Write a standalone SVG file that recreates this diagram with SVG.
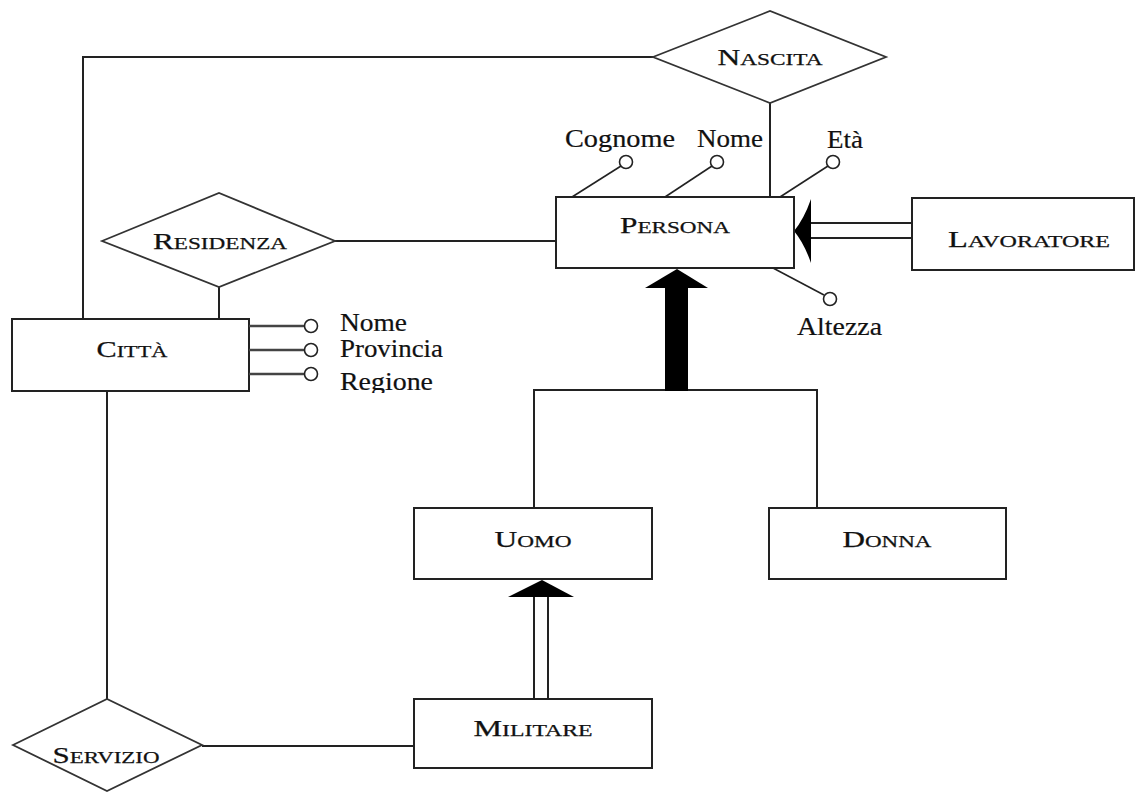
<svg xmlns="http://www.w3.org/2000/svg" width="1137" height="792" viewBox="0 0 1137 792">
<style>
.box{fill:#fff;stroke:#222;stroke-width:2}
.dia{fill:#fff;stroke:#333;stroke-width:1.8}
.ln{fill:none;stroke:#222;stroke-width:2}
.att{fill:#fff;stroke:#222;stroke-width:1.6}
.lbl{font-family:"Liberation Serif","Times New Roman",serif;fill:#111;text-anchor:middle;stroke:#111;stroke-width:0.25}
.big{font-size:23px}
.sm{font-size:17px}
.at{font-family:"Liberation Serif","Times New Roman",serif;fill:#111;font-size:25px;stroke:#111;stroke-width:0.2}
.arr{fill:#000;stroke:none}
</style>
<defs>
<clipPath id="clipReg"><rect x="330" y="360" width="120" height="33"/></clipPath>
</defs>
<g id="connectors">
<polyline class="ln" points="653,57 83,57 83,319"/>
<line class="ln" x1="770" y1="103" x2="770" y2="197"/>
<line class="ln" x1="335" y1="241" x2="556" y2="241"/>
<line class="ln" x1="219" y1="287" x2="219" y2="319"/>
<line class="ln" x1="107" y1="391" x2="107" y2="699"/>
<line class="ln" x1="202" y1="746" x2="414" y2="746"/>
<polyline class="ln" points="534,508 534,390 817,390 817,508"/>
<rect class="arr" x="665" y="286" width="23" height="105"/>
<polygon class="arr" points="677,269 645,288 708,288"/>
<line class="ln" x1="810" y1="223" x2="912" y2="223"/>
<line class="ln" x1="810" y1="238" x2="912" y2="238"/>
<path class="arr" d="M794,231 Q804,219 811,199 L811,263 Q804,243 794,231 Z"/>
<line class="ln" x1="534" y1="597" x2="534" y2="699"/>
<line class="ln" x1="548" y1="597" x2="548" y2="699"/>
<polygon class="arr" points="542,580 508,597 574,597"/>
</g>
<g id="nascita">
<polygon class="dia" points="653,57 770,11 886,57 770,103"/>
<text class="lbl" x="770" y="65" textLength="105" lengthAdjust="spacingAndGlyphs"><tspan class="big">N</tspan><tspan class="sm">ASCITA</tspan></text>
</g>
<g id="residenza">
<polygon class="dia" points="102,241 219,193 335,241 219,287"/>
<text class="lbl" x="220" y="249" textLength="134" lengthAdjust="spacingAndGlyphs"><tspan class="big">R</tspan><tspan class="sm">ESIDENZA</tspan></text>
</g>
<g id="servizio">
<polygon class="dia" points="13,745 107,699 202,745 107,791"/>
<text class="lbl" x="106" y="763" textLength="107" lengthAdjust="spacingAndGlyphs"><tspan class="big">S</tspan><tspan class="sm">ERVIZIO</tspan></text>
</g>
<g id="persona">
<rect class="box" x="556" y="197" width="238" height="71"/>
<text class="lbl" x="675" y="233" textLength="110" lengthAdjust="spacingAndGlyphs"><tspan class="big">P</tspan><tspan class="sm">ERSONA</tspan></text>
<line class="ln" x1="572" y1="197" x2="621" y2="166" style="stroke-width:1.6"/>
<circle class="att" cx="626" cy="162" r="6.5"/>
<text class="at" x="565" y="147" textLength="110" lengthAdjust="spacingAndGlyphs">Cognome</text>
<line class="ln" x1="665" y1="197" x2="712" y2="166" style="stroke-width:1.6"/>
<circle class="att" cx="717" cy="162" r="6.5"/>
<text class="at" x="697" y="147" textLength="66" lengthAdjust="spacingAndGlyphs">Nome</text>
<line class="ln" x1="780" y1="197" x2="828" y2="166" style="stroke-width:1.6"/>
<circle class="att" cx="833" cy="162" r="6.5"/>
<text class="at" x="827" y="148" textLength="36" lengthAdjust="spacingAndGlyphs">Età</text>
<line class="ln" x1="773" y1="268" x2="824" y2="295" style="stroke-width:1.6"/>
<circle class="att" cx="830" cy="299" r="6.5"/>
<text class="at" x="797" y="335" textLength="85" lengthAdjust="spacingAndGlyphs">Altezza</text>
</g>
<g id="lavoratore">
<rect class="box" x="912" y="198" width="222" height="72"/>
<text class="lbl" x="1029" y="247" textLength="162" lengthAdjust="spacingAndGlyphs"><tspan class="big">L</tspan><tspan class="sm">AVORATORE</tspan></text>
</g>
<g id="citta">
<rect class="box" x="12" y="319" width="237" height="72"/>
<text class="lbl" x="132" y="357" textLength="71" lengthAdjust="spacingAndGlyphs"><tspan class="big">C</tspan><tspan class="sm">ITTÀ</tspan></text>
<line x1="249" y1="326" x2="305" y2="326" stroke="#444" stroke-width="2.6"/>
<line x1="249" y1="350" x2="305" y2="350" stroke="#444" stroke-width="2.6"/>
<line x1="249" y1="374" x2="305" y2="374" stroke="#444" stroke-width="2.6"/>
<circle class="att" cx="311" cy="326" r="6.5"/>
<circle class="att" cx="311" cy="350" r="6.5"/>
<circle class="att" cx="311" cy="374" r="6.5"/>
<text class="at" x="340" y="331" textLength="67" lengthAdjust="spacingAndGlyphs">Nome</text>
<text class="at" x="340" y="357" textLength="103" lengthAdjust="spacingAndGlyphs">Provincia</text>
<text class="at" x="340" y="390" textLength="93" lengthAdjust="spacingAndGlyphs" clip-path="url(#clipReg)">Regione</text>
</g>
<g id="uomo">
<rect class="box" x="414" y="508" width="238" height="71"/>
<text class="lbl" x="533" y="547" textLength="77" lengthAdjust="spacingAndGlyphs"><tspan class="big">U</tspan><tspan class="sm">OMO</tspan></text>
</g>
<g id="donna">
<rect class="box" x="769" y="508" width="237" height="71"/>
<text class="lbl" x="887" y="547" textLength="89" lengthAdjust="spacingAndGlyphs"><tspan class="big">D</tspan><tspan class="sm">ONNA</tspan></text>
</g>
<g id="militare">
<rect class="box" x="414" y="699" width="238" height="69"/>
<text class="lbl" x="533" y="736" textLength="119" lengthAdjust="spacingAndGlyphs"><tspan class="big">M</tspan><tspan class="sm">ILITARE</tspan></text>
</g>
</svg>
